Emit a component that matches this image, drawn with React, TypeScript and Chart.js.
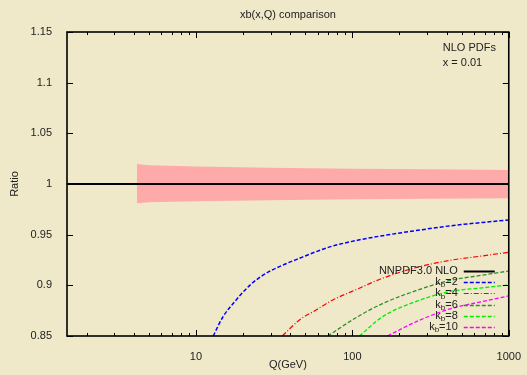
import { useEffect, useRef } from "react";
import { Chart, registerables } from "chart.js";

Chart.register(...registerables);

// Q values (GeV) and ratios to NNPDF3.0 NLO for each k_b choice
const Q_KB2 = [12.9, 14.9, 17.3, 22.1, 28.2, 36.0, 45.9, 58.7, 75, 108, 156, 255, 415, 676, 1000];
const R_KB2 = [0.85, 0.869, 0.882, 0.9, 0.912, 0.92, 0.9267, 0.9332, 0.9388, 0.9445, 0.949, 0.954, 0.9586, 0.962, 0.9645];

const Q_KB4 = [35.7, 45.9, 58.7, 75, 108, 156, 255, 415, 676, 1000];
const R_KB4 = [0.85, 0.8658, 0.8757, 0.8855, 0.8964, 0.907, 0.9175, 0.9245, 0.929, 0.9326];

const Q_KB6 = [69.7, 108, 156, 255, 415, 676, 1000];
const R_KB6 = [0.85, 0.869, 0.882, 0.8947, 0.9046, 0.91, 0.9141];

const Q_KB8 = [111, 156, 255, 415, 676, 1000];
const R_KB8 = [0.85, 0.869, 0.884, 0.8937, 0.8975, 0.9003];

const Q_KB10 = [168, 255, 415, 676, 1000];
const R_KB10 = [0.85, 0.864, 0.8765, 0.884, 0.8895];

// NNPDF3.0 NLO uncertainty band
const BAND_Q = [4.2, 5, 10, 30, 100, 300, 1000];
const BAND_HI = [1.0197, 1.0185, 1.0172, 1.016, 1.015, 1.0145, 1.0138];
const BAND_LO = [0.981, 0.982, 0.983, 0.984, 0.985, 0.9855, 0.986];

const CENTRAL_Q = [1.5, 1000];
const CENTRAL_R = [1, 1];

const X_MIN = 1.5;
const X_MAX = 1000;
const Y_MIN = 0.85;
const Y_MAX = 1.15;
const Y_STEP = 0.05;
const X_LABELED = [10, 100, 1000];

const LEGEND = [
  { sub: null as string | null, text: "NNPDF3.0 NLO", color: "#000000", dash: [] as number[], width: 2 },
  { sub: "b", text: "=2", color: "#0000ff", dash: [4, 2], width: 1.5 },
  { sub: "b", text: "=4", color: "#ff0000", dash: [5, 2, 1, 2], width: 1.2 },
  { sub: "b", text: "=6", color: "#2e8b2e", dash: [4, 2], width: 1.3 },
  { sub: "b", text: "=8", color: "#00ee00", dash: [4, 2], width: 1.3 },
  { sub: "b", text: "=10", color: "#ff00ff", dash: [4, 2], width: 1.3 },
];

const FONT = "'Liberation Sans', Arial, sans-serif";
const INK = "#222222";

function pts(xs: number[], ys: number[]) {
  return xs.map((x, i) => ({ x, y: ys[i] }));
}

const decorations = {
  id: "decorations",
  afterDatasetsDraw(chart: any) {
    const { ctx, chartArea: a, scales } = chart;
    const xs = scales.x;
    const ys = scales.y;
    ctx.save();

    // frame
    ctx.strokeStyle = "#000";
    ctx.lineWidth = 1.6;
    ctx.setLineDash([]);
    ctx.strokeRect(a.left, a.top, a.right - a.left, a.bottom - a.top);

    // inward tick marks
    ctx.lineWidth = 1;
    ctx.beginPath();
    for (let d = 1; d <= 1000; d *= 10) {
      for (let m = 1; m <= 9; m++) {
        const v = d * m;
        if (v < X_MIN || v > X_MAX) continue;
        const px = Math.round(xs.getPixelForValue(v)) + 0.5;
        const len = m === 1 ? 6 : 3;
        ctx.moveTo(px, a.bottom);
        ctx.lineTo(px, a.bottom - len);
        ctx.moveTo(px, a.top);
        ctx.lineTo(px, a.top + len);
      }
    }
    for (let v = Y_MIN; v <= Y_MAX + 1e-9; v += Y_STEP) {
      const py = Math.round(ys.getPixelForValue(v)) + 0.5;
      ctx.moveTo(a.left, py);
      ctx.lineTo(a.left + 6, py);
      ctx.moveTo(a.right, py);
      ctx.lineTo(a.right - 6, py);
    }
    ctx.stroke();

    // annotation, top right
    ctx.fillStyle = INK;
    ctx.font = `11px ${FONT}`;
    ctx.textAlign = "left";
    ctx.textBaseline = "middle";
    ctx.fillText("NLO PDFs", a.right - 66, a.top + 16);
    ctx.fillText("x = 0.01", a.right - 66, a.top + 31);

    // legend, bottom right
    const textRight = a.right - 51;
    const lineX0 = a.right - 45;
    const lineX1 = a.right - 14;
    LEGEND.forEach((e, i) => {
      const y = a.bottom - 65 + i * 11.2;
      ctx.fillStyle = INK;
      ctx.textBaseline = "middle";
      if (e.sub === null) {
        ctx.font = `11px ${FONT}`;
        ctx.textAlign = "right";
        ctx.fillText(e.text, textRight, y);
      } else {
        ctx.font = `11px ${FONT}`;
        const wK = ctx.measureText("k").width;
        const wT = ctx.measureText(e.text).width;
        ctx.font = `8px ${FONT}`;
        const wS = ctx.measureText(e.sub).width;
        let x = textRight - (wK + wS + wT);
        ctx.textAlign = "left";
        ctx.font = `11px ${FONT}`;
        ctx.fillText("k", x, y);
        x += wK;
        ctx.font = `8px ${FONT}`;
        ctx.fillText(e.sub, x, y + 3);
        x += wS;
        ctx.font = `11px ${FONT}`;
        ctx.fillText(e.text, x, y);
      }
      ctx.strokeStyle = e.color;
      ctx.lineWidth = e.width;
      ctx.setLineDash(e.dash);
      ctx.beginPath();
      ctx.moveTo(lineX0, Math.round(y) + 0.5);
      ctx.lineTo(lineX1, Math.round(y) + 0.5);
      ctx.stroke();
    });
    ctx.setLineDash([]);

    // chart title and axis titles
    const cx = (a.left + a.right) / 2;
    ctx.fillStyle = INK;
    ctx.font = `11px ${FONT}`;
    ctx.textAlign = "center";
    ctx.textBaseline = "middle";
    ctx.fillText("xb(x,Q) comparison", cx, 15);
    ctx.fillText("Q(GeV)", cx, 365);
    ctx.translate(15, (a.top + a.bottom) / 2);
    ctx.rotate(-Math.PI / 2);
    ctx.fillText("Ratio", 0, 0);
    ctx.restore();
  },
};

export default function App() {
  const ref = useRef<HTMLCanvasElement>(null);

  useEffect(() => {
    const canvas = ref.current;
    if (!canvas) return;
    const curve = (data: { x: number; y: number }[], color: string, dash: number[], width: number) => ({
      data,
      borderColor: color,
      borderWidth: width,
      borderDash: dash,
      pointRadius: 0,
      fill: false,
      cubicInterpolationMode: "monotone" as const,
    });

    // Chart.js paints the first dataset on top, so the band comes last
    const chart = new Chart(canvas, {
      type: "line",
      data: {
        datasets: [
          curve(pts(Q_KB10, R_KB10), LEGEND[5].color, LEGEND[5].dash, LEGEND[5].width),
          curve(pts(Q_KB8, R_KB8), LEGEND[4].color, LEGEND[4].dash, LEGEND[4].width),
          curve(pts(Q_KB6, R_KB6), LEGEND[3].color, LEGEND[3].dash, LEGEND[3].width),
          curve(pts(Q_KB4, R_KB4), LEGEND[2].color, LEGEND[2].dash, LEGEND[2].width),
          curve(pts(Q_KB2, R_KB2), LEGEND[1].color, LEGEND[1].dash, LEGEND[1].width),
          curve(pts(CENTRAL_Q, CENTRAL_R), "#000000", [], 2),
          {
            data: pts(BAND_Q, BAND_HI),
            borderWidth: 0,
            borderColor: "rgba(0,0,0,0)",
            backgroundColor: "#ffaaaa",
            pointRadius: 0,
            fill: "+1",
          },
          {
            data: pts(BAND_Q, BAND_LO),
            borderWidth: 0,
            borderColor: "rgba(0,0,0,0)",
            pointRadius: 0,
            fill: false,
          },
        ],
      },
      options: {
        responsive: false,
        animation: false,
        layout: { padding: { top: 32, right: 16, left: 0, bottom: 0 } },
        plugins: {
          legend: { display: false },
          tooltip: { enabled: false },
          title: { display: false },
        },
        scales: {
          x: {
            type: "logarithmic",
            min: X_MIN,
            max: X_MAX,
            grid: { display: false },
            border: { display: false },
            ticks: {
              autoSkip: false,
              maxRotation: 0,
              padding: 6,
              color: INK,
              font: { family: FONT, size: 11 },
              callback: (v: any) => {
                const n = Number(v);
                return X_LABELED.some((t) => Math.abs(t - n) < 1e-6) ? String(Math.round(n)) : "";
              },
            },
            afterFit: (s: any) => {
              s.height = 39;
            },
          },
          y: {
            type: "linear",
            min: Y_MIN,
            max: Y_MAX,
            grid: { display: false },
            border: { display: false },
            ticks: {
              stepSize: Y_STEP,
              padding: 7,
              color: INK,
              font: { family: FONT, size: 11 },
              callback: (v: any) => String(Number(Number(v).toFixed(2))),
            },
            afterFit: (s: any) => {
              s.width = 67;
            },
          },
        },
      },
      plugins: [decorations],
    });
    return () => chart.destroy();
  }, []);

  return (
    <div
      style={{
        position: "fixed",
        left: 0,
        top: 0,
        width: 527,
        height: 375,
        background: "#efe9c9",
      }}
    >
      <canvas ref={ref} width={527} height={375} style={{ display: "block" }} />
    </div>
  );
}
